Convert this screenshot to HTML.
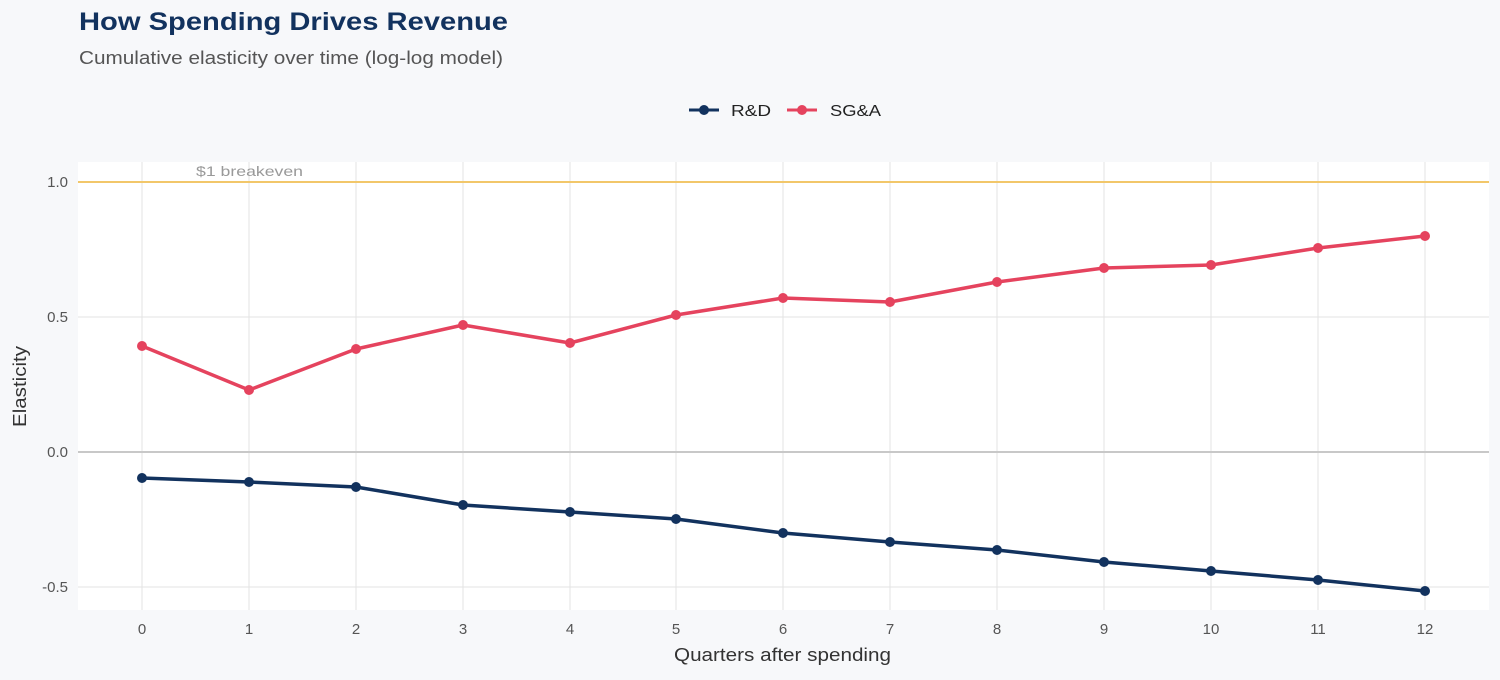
<!DOCTYPE html>
<html><head><meta charset="utf-8"><style>
body{margin:0;background:#f7f8fa;font-family:"Liberation Sans",sans-serif;}
</style></head><body>
<svg width="1500" height="675" xmlns="http://www.w3.org/2000/svg" font-family="Liberation Sans, sans-serif">
<rect width="1500" height="675" fill="#f7f8fa"/>
<text x="79" y="30" font-size="25" font-weight="bold" fill="#12325e" textLength="429" lengthAdjust="spacingAndGlyphs">How Spending Drives Revenue</text>
<text x="79" y="64" font-size="18" fill="#555" textLength="424" lengthAdjust="spacingAndGlyphs">Cumulative elasticity over time (log-log model)</text>
<!-- legend -->
<line x1="689" y1="110" x2="719" y2="110" stroke="#12325e" stroke-width="3"/>
<circle cx="704" cy="110" r="5" fill="#12325e"/>
<text x="731" y="116" font-size="16" fill="#222" textLength="40" lengthAdjust="spacingAndGlyphs">R&amp;D</text>
<line x1="787" y1="110" x2="817" y2="110" stroke="#e5435e" stroke-width="3"/>
<circle cx="802" cy="110" r="5" fill="#e5435e"/>
<text x="830" y="116" font-size="16" fill="#222" textLength="51" lengthAdjust="spacingAndGlyphs">SG&amp;A</text>
<!-- panel -->
<rect x="78" y="162" width="1411" height="448" fill="#ffffff"/>
<g stroke="#e3e3e3" stroke-width="1">
<line x1="78" x2="1489" y1="182" y2="182"/><line x1="78" x2="1489" y1="317" y2="317"/>
<line x1="78" x2="1489" y1="587" y2="587"/>
<line x1="142" x2="142" y1="162" y2="610"/><line x1="249" x2="249" y1="162" y2="610"/>
<line x1="356" x2="356" y1="162" y2="610"/><line x1="463" x2="463" y1="162" y2="610"/>
<line x1="570" x2="570" y1="162" y2="610"/><line x1="676" x2="676" y1="162" y2="610"/>
<line x1="783" x2="783" y1="162" y2="610"/><line x1="890" x2="890" y1="162" y2="610"/>
<line x1="997" x2="997" y1="162" y2="610"/><line x1="1104" x2="1104" y1="162" y2="610"/>
<line x1="1211" x2="1211" y1="162" y2="610"/><line x1="1318" x2="1318" y1="162" y2="610"/>
<line x1="1425" x2="1425" y1="162" y2="610"/>
</g>
<line x1="78" x2="1489" y1="452" y2="452" stroke="#c8c8c8" stroke-width="2"/>
<line x1="78" x2="1489" y1="182" y2="182" stroke="#f2c76a" stroke-width="2"/>
<text x="196" y="176" font-size="14" fill="#999" textLength="107" lengthAdjust="spacingAndGlyphs">$1 breakeven</text>
<polyline fill="none" stroke="#e5435e" stroke-width="3.5" stroke-linejoin="round" points="142,346 249,390 356,349 463,325 570,343 676,315 783,298 890,302 997,282 1104,268 1211,265 1318,248 1425,236"/>
<g fill="#e5435e">
<circle cx="142" cy="346" r="5"/><circle cx="249" cy="390" r="5"/><circle cx="356" cy="349" r="5"/><circle cx="463" cy="325" r="5"/><circle cx="570" cy="343" r="5"/><circle cx="676" cy="315" r="5"/><circle cx="783" cy="298" r="5"/><circle cx="890" cy="302" r="5"/><circle cx="997" cy="282" r="5"/><circle cx="1104" cy="268" r="5"/><circle cx="1211" cy="265" r="5"/><circle cx="1318" cy="248" r="5"/><circle cx="1425" cy="236" r="5"/>
</g>
<polyline fill="none" stroke="#12325e" stroke-width="3.5" stroke-linejoin="round" points="142,478 249,482 356,487 463,505 570,512 676,519 783,533 890,542 997,550 1104,562 1211,571 1318,580 1425,591"/>
<g fill="#12325e">
<circle cx="142" cy="478" r="5"/><circle cx="249" cy="482" r="5"/><circle cx="356" cy="487" r="5"/><circle cx="463" cy="505" r="5"/><circle cx="570" cy="512" r="5"/><circle cx="676" cy="519" r="5"/><circle cx="783" cy="533" r="5"/><circle cx="890" cy="542" r="5"/><circle cx="997" cy="550" r="5"/><circle cx="1104" cy="562" r="5"/><circle cx="1211" cy="571" r="5"/><circle cx="1318" cy="580" r="5"/><circle cx="1425" cy="591" r="5"/>
</g>
<g font-size="15" fill="#555" text-anchor="end">
<text x="68" y="187">1.0</text><text x="68" y="322">0.5</text><text x="68" y="457">0.0</text><text x="68" y="592">-0.5</text>
</g>
<g font-size="15" fill="#555" text-anchor="middle">
<text x="142" y="634">0</text><text x="249" y="634">1</text><text x="356" y="634">2</text><text x="463" y="634">3</text><text x="570" y="634">4</text><text x="676" y="634">5</text><text x="783" y="634">6</text><text x="890" y="634">7</text><text x="997" y="634">8</text><text x="1104" y="634">9</text><text x="1211" y="634">10</text><text x="1318" y="634">11</text><text x="1425" y="634">12</text>
</g>
<text x="674" y="661" font-size="18" fill="#333" textLength="217" lengthAdjust="spacingAndGlyphs">Quarters after spending</text>
<text transform="translate(26,427) rotate(-90)" font-size="18" fill="#333" textLength="81" lengthAdjust="spacingAndGlyphs">Elasticity</text>
</svg>
</body></html>
